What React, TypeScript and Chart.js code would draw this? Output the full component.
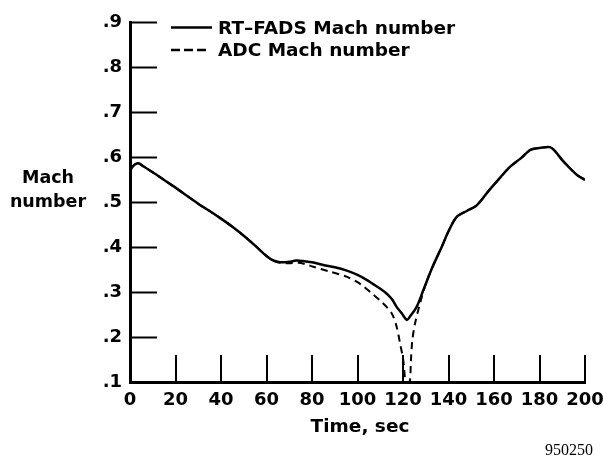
import React, { useEffect, useRef } from "react";
import { Chart, registerables } from "chart.js";

Chart.register(...registerables);

// RT-FADS Mach number (solid)
const fadsTime = [0, 1, 3.5, 6, 10, 15, 20, 25, 30, 35, 40, 45, 50, 55, 60, 63, 66, 70, 73, 76, 80, 85, 90, 95, 100, 104, 108, 112, 115, 117.2, 119.5, 121.7, 123, 126, 129, 133, 137, 140, 143.6, 148, 152.5, 158, 163, 167, 172, 176, 180, 184.6, 187, 190, 193, 196.5, 200];
const fadsMach = [0.567, 0.578, 0.586, 0.579, 0.566, 0.549, 0.532, 0.514, 0.496, 0.48, 0.463, 0.445, 0.425, 0.403, 0.38, 0.37, 0.366, 0.367, 0.37, 0.369, 0.366, 0.36, 0.355, 0.348, 0.338, 0.327, 0.314, 0.3, 0.285, 0.267, 0.252, 0.238, 0.245, 0.267, 0.305, 0.356, 0.4, 0.435, 0.467, 0.48, 0.493, 0.527, 0.556, 0.578, 0.598, 0.616, 0.62, 0.622, 0.612, 0.593, 0.577, 0.56, 0.549];

// ADC Mach number (dashed)
const adcTime = [0, 1, 3.5, 6, 10, 15, 20, 25, 30, 35, 40, 45, 50, 55, 60, 63, 66, 70, 74, 77, 80.6, 88, 95.2, 101.8, 106.2, 110.6, 115, 117.2, 118.7, 120.1, 120.9, 121.4, 122.6, 123.1, 123.5, 124.1, 125.3, 127.5, 130, 133, 137, 140, 143.6, 148, 152.5, 158, 163, 167, 172, 176, 180, 184.6, 187, 190, 193, 196.5, 200];
const adcMach = [0.567, 0.578, 0.586, 0.579, 0.566, 0.549, 0.532, 0.514, 0.496, 0.48, 0.463, 0.445, 0.425, 0.403, 0.38, 0.37, 0.365, 0.364, 0.365, 0.362, 0.356, 0.345, 0.334, 0.316, 0.297, 0.278, 0.253, 0.223, 0.186, 0.149, 0.108, 0.1, 0.1, 0.104, 0.149, 0.193, 0.23, 0.275, 0.318, 0.356, 0.4, 0.435, 0.467, 0.48, 0.493, 0.527, 0.556, 0.578, 0.598, 0.616, 0.62, 0.622, 0.612, 0.593, 0.577, 0.56, 0.549];

const xTickValues = [0, 20, 40, 60, 80, 100, 120, 140, 160, 180, 200];
const yTickValues = [0.1, 0.2, 0.3, 0.4, 0.5, 0.6, 0.7, 0.8, 0.9];

const seriesNames = ["RT\u2013FADS Mach number", "ADC Mach number"];
const yTitleLines = ["Mach", "number"];
const xTitle = "Time, sec";
const figureId = "950250";

const BOLD = "'DejaVu Sans', 'Liberation Sans', sans-serif";

const decor = {
  id: "decor",
  afterDraw(chart: any) {
    const ctx = chart.ctx as CanvasRenderingContext2D;
    const xs = chart.scales.x;
    const ys = chart.scales.y;
    const ca = chart.chartArea;
    ctx.save();
    ctx.strokeStyle = "#000";
    ctx.fillStyle = "#000";
    ctx.lineWidth = 2;
    ctx.setLineDash([]);
    // inward ticks
    yTickValues.slice(1).forEach((v) => {
      const py = Math.round(ys.getPixelForValue(v)) + 0.5;
      ctx.beginPath();
      ctx.moveTo(ca.left, py);
      ctx.lineTo(ca.left + 27, py);
      ctx.stroke();
    });
    xTickValues.slice(1).forEach((v) => {
      const px = Math.round(xs.getPixelForValue(v));
      ctx.beginPath();
      ctx.moveTo(px, ca.bottom);
      ctx.lineTo(px, ca.bottom - 27);
      ctx.stroke();
    });
    // legend
    ctx.lineWidth = 2.5;
    ctx.beginPath();
    ctx.moveTo(171, 27.5);
    ctx.lineTo(212, 27.5);
    ctx.stroke();
    ctx.setLineDash([9, 4]);
    ctx.beginPath();
    ctx.moveTo(171, 50);
    ctx.lineTo(208, 50);
    ctx.stroke();
    ctx.setLineDash([]);
    ctx.font = `bold 18.5px ${BOLD}`;
    ctx.textAlign = "left";
    ctx.textBaseline = "alphabetic";
    ctx.fillText(seriesNames[0], 218, 34);
    ctx.fillText(seriesNames[1], 218, 56);
    // y title
    ctx.font = `bold 17.5px ${BOLD}`;
    ctx.textAlign = "center";
    ctx.fillText(yTitleLines[0], 48, 183);
    ctx.fillText(yTitleLines[1], 48, 207);
    // x title
    ctx.font = `bold 18.5px ${BOLD}`;
    ctx.fillText(xTitle, 360, 432);
    // figure id
    ctx.font = "16px 'Liberation Serif', 'Times New Roman', serif";
    ctx.textAlign = "left";
    ctx.fillText(figureId, 545, 455);
    ctx.restore();
  },
};

export default function App() {
  const ref = useRef<HTMLCanvasElement | null>(null);
  useEffect(() => {
    if (!ref.current) return;
    const chart = new Chart(ref.current, {
      type: "line",
      data: {
        datasets: [
          {
            label: seriesNames[0],
            data: fadsTime.map((t, i) => ({ x: t, y: fadsMach[i] })),
            borderColor: "#000",
            borderWidth: 2.5,
            pointRadius: 0,
            tension: 0.3,
            fill: false,
          },
          {
            label: seriesNames[1],
            data: adcTime.map((t, i) => ({ x: t, y: adcMach[i] })),
            borderColor: "#000",
            borderWidth: 2,
            borderDash: [7, 5],
            pointRadius: 0,
            tension: 0.3,
            fill: false,
          },
        ],
      },
      options: {
        animation: false,
        responsive: false,
        devicePixelRatio: 1,
        layout: { padding: { top: 22, right: 18, left: 0, bottom: 0 } },
        plugins: { legend: { display: false }, tooltip: { enabled: false } },
        scales: {
          x: {
            type: "linear",
            min: 0,
            max: 200,
            grid: { display: false, drawTicks: false },
            border: { display: true, color: "#000", width: 3 },
            ticks: {
              stepSize: 20,
              padding: 8,
              color: "#000",
              font: { family: BOLD, size: 18, weight: "bold" },
              maxRotation: 0,
            },
            afterFit: (s: any) => {
              s.height = 74;
              s.paddingRight = 0;
              s.paddingLeft = 0;
            },
          },
          y: {
            type: "linear",
            min: 0.1,
            max: 0.9,
            grid: { display: false, drawTicks: false },
            border: { display: true, color: "#000", width: 3 },
            ticks: {
              stepSize: 0.1,
              padding: 8,
              color: "#000",
              font: { family: BOLD, size: 18, weight: "bold" },
              callback: (v: any) => Number(v).toFixed(1).replace(/^0/, ""),
            },
            afterFit: (s: any) => {
              s.width = 130;
              s.paddingTop = 0;
              s.paddingBottom = 0;
            },
          },
        },
      },
      plugins: [decor],
    });
    return () => chart.destroy();
  }, []);
  return (
    <div style={{ position: "fixed", left: 0, top: 0, width: 603, height: 456, background: "#fff" }}>
      <canvas ref={ref} width={603} height={456} style={{ display: "block" }} />
    </div>
  );
}
